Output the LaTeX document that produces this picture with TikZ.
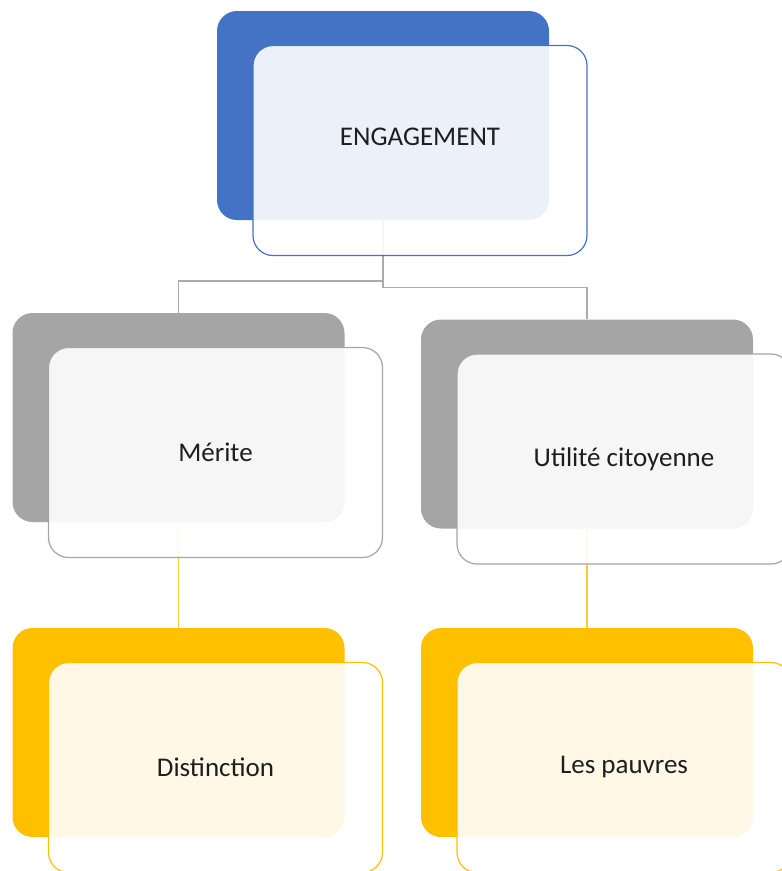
\documentclass[tikz,border=0pt]{standalone}
\usepackage{fontspec}
\setmainfont{Carlito}
\definecolor{cblue}{HTML}{4472C4}
\definecolor{cgray}{HTML}{A5A5A5}
\definecolor{cyel}{HTML}{FFC000}
\definecolor{cline}{HTML}{ABABAB}
\definecolor{cyline}{HTML}{FFCB3A}
\definecolor{ctext}{HTML}{1E1E1E}
\tikzset{
  backbox/.style={rectangle, rounded corners=20pt, minimum width=332pt, minimum height=209pt, inner sep=0pt, draw=none},
  frontbox/.style={rectangle, rounded corners=20pt, minimum width=334pt, minimum height=210pt, inner sep=0pt, fill=white, fill opacity=0.9, text opacity=1, line width=1.2pt, font=\fontsize{27}{32}\selectfont, text=ctext},
  txt/.style={font=\fontsize{27}{32}\selectfont, text=ctext, inner sep=0pt},
  gline/.style={draw=cline, line width=1.4pt},
  yline/.style={draw=cyline, line width=1.1pt},
}
\begin{document}
\begin{tikzpicture}[x=1pt,y=-1pt]
\useasboundingbox (0,0) rectangle (782,871);
\clip (0,0) rectangle (782,871);
% back boxes
\node[backbox, fill=cblue] (topb) at (383,115.5) {};
\node[backbox, fill=cgray] (mlb) at (178.5,417.5) {};
\node[backbox, fill=cgray] (mrb) at (587,424) {};
\node[backbox, fill=cyel] (blb) at (178.5,732.5) {};
\node[backbox, fill=cyel] (brb) at (587,732.5) {};
% connectors
\draw[gline] (topb.south) |- ([yshift=32pt]mlb.north) -- (mlb.north);
\draw[gline] (topb.south) |- ([yshift=32pt]mrb.north) -- (mrb.north);
\draw[yline] (mlb.south) -- (blb.north);
\draw[yline] (mrb.south) -- (brb.north);
% front boxes
\node[frontbox, draw=cblue] (topf) at (420,150.5) {};
\node[txt] (engt) at ([yshift=14pt]topf.center) {ENGAGEMENT};
\node[frontbox, draw=cgray] (mlf) at (215.5,452.5) {Mérite};
\node[frontbox, draw=cgray] (mrf) at (624,459) {Utilité citoyenne};
\node[frontbox, draw=cyel] (blf) at (215.5,767.5) {Distinction};
\node[frontbox, draw=cyel] (brf) at (624,767.5) {Les pauvres};
\end{tikzpicture}
\end{document}
